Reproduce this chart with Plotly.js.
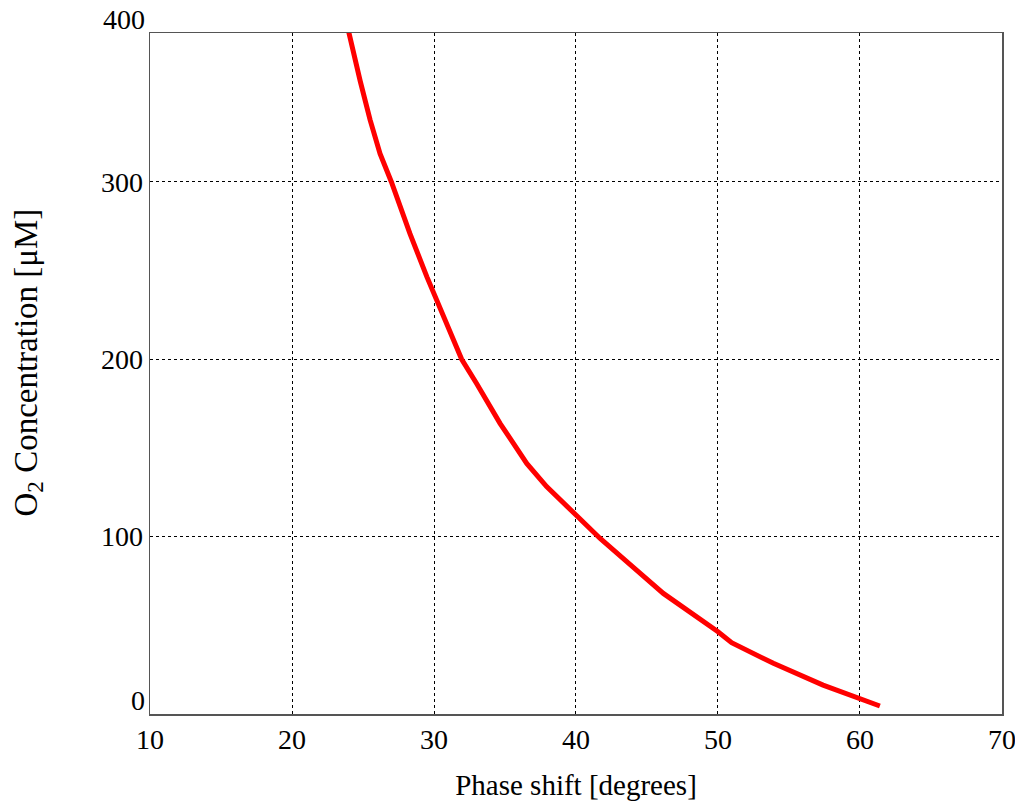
<!DOCTYPE html>
<html>
<head>
<meta charset="utf-8">
<script src="https://cdn.plot.ly/plotly-3.0.1.min.js"></script>
<style>body{margin:0;background:#fff}</style>
</head>
<body>
<div id="chart" style="width:1015px;height:801px"></div>
<script>
const phaseShift = [23.75, 24.0, 24.8, 25.5, 26.2, 27.0, 28.3, 29.5, 30.2, 31.0, 31.95, 33.0, 34.65, 36.53, 37.93, 40.0, 41.7, 44.0, 46.15, 50.0, 50.96, 53.9, 57.4, 61.4];
const o2Conc     = [393, 384, 357, 335, 316, 300, 271, 246.5, 233, 216.5, 200, 186.4, 163.9, 141.3, 128.2, 112.2, 99, 83, 68, 46.4, 40.2, 28.6, 16.3, 4.5];
const xTicks = [10, 20, 30, 40, 50, 60, 70];
const yTicks = [100, 200, 300];
const yEndLabels = [[0, '0'], [384, '400']];
const yTop = 384;
const yTitle = 'O<sub>2</sub> Concentration [μM]';
const xTitle = 'Phase shift [degrees]';

const serif = 'Liberation Serif, Times New Roman, serif';
const trace = {
  x: phaseShift, y: o2Conc, type: 'scatter', mode: 'lines',
  line: {color: '#ff0000', width: 5}, hoverinfo: 'none'
};
const annotations = yEndLabels.map(([v, t]) => ({
  xref: 'paper', yref: 'y', x: 0, y: v, text: t, showarrow: false,
  xanchor: 'right', yanchor: 'bottom', xshift: -3, yshift: -4,
  font: {family: serif, size: 28, color: '#000'}
}));
annotations.push({
  xref: 'paper', yref: 'paper', x: 0, y: 0.5, text: yTitle, showarrow: false,
  textangle: -90, xanchor: 'center', yanchor: 'middle', xshift: -122, yshift: 11,
  font: {family: serif, size: 33, color: '#000'}
});
const layout = {
  width: 1015, height: 801,
  margin: {l: 150, r: 13, t: 33, b: 87},
  paper_bgcolor: '#fff', plot_bgcolor: '#fff',
  showlegend: false,
  font: {family: serif, size: 28, color: '#000'},
  xaxis: {
    range: [10, 70.001], tickvals: xTicks, ticktext: xTicks.map(String),
    showgrid: true, gridcolor: '#000', griddash: 'dot', gridwidth: 1,
    zeroline: false, showline: true, linecolor: '#555', linewidth: 1.5, mirror: true,
    ticks: '', ticklabeloverflow: 'allow', tickfont: {family: serif, size: 28, color: '#000'},
    title: {text: xTitle, font: {family: serif, size: 29, color: '#000'}, standoff: 20}
  },
  yaxis: {
    range: [0, yTop], tickvals: yTicks, ticktext: yTicks.map(String),
    showgrid: true, gridcolor: '#000', griddash: 'dot', gridwidth: 1,
    zeroline: false, showline: true, linecolor: '#555', linewidth: 1.5, mirror: true,
    ticks: '', ticklen: 0, tickfont: {family: serif, size: 28, color: '#000'}
  },
  annotations: annotations
};
Plotly.newPlot('chart', [trace], layout, {displayModeBar: false, staticPlot: true});
</script>
</body>
</html>
